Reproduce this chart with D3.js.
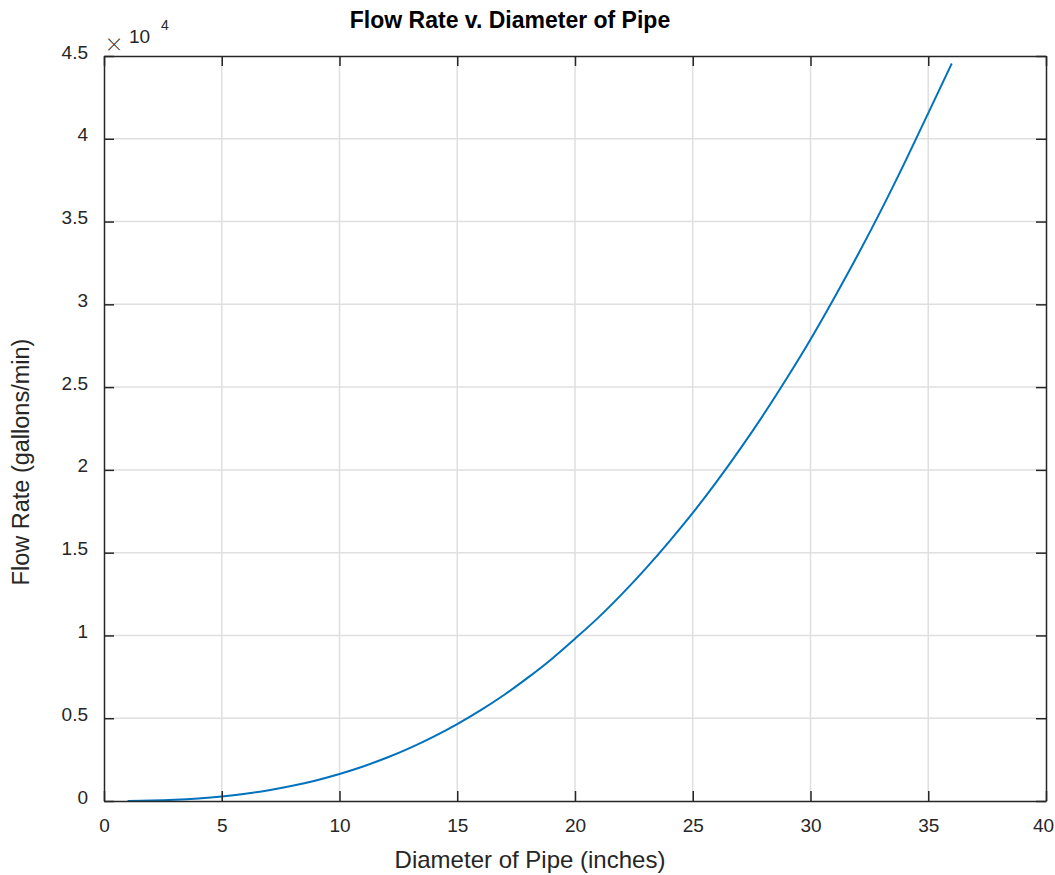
<!DOCTYPE html>
<html>
<head>
<meta charset="utf-8">
<script src="https://cdn.jsdelivr.net/npm/d3@7"></script>
<style>
  html, body { margin: 0; padding: 0; background: #fff; }
  svg { display: block; }
  text { font-family: "Liberation Sans", Arial, Helvetica, sans-serif; fill: #262626; }
</style>
</head>
<body>
<svg id="chart" width="1055" height="875"></svg>
<script>
// ---- data ----
const diameters = [1, 2, 3, 4, 5, 6, 7, 8, 9, 10, 11, 12, 13, 14, 15, 16, 17, 18,
                   19, 20, 21, 22, 23, 24, 25, 26, 27, 28, 29, 30, 31, 32, 33, 34, 35, 36];
const flowRates = [4, 25, 73, 153, 270, 435, 648, 915, 1240, 1630, 2085, 2610, 3210, 3890,
                   4650, 5490, 6420, 7450, 8565, 9800, 11090, 12510, 14040, 15670, 17400,
                   19260, 21240, 23330, 25550, 27880, 30370, 32960, 35690, 38560, 41550, 44550];
const xTicks = [0, 5, 10, 15, 20, 25, 30, 35, 40];
const yTicks = [0, 5000, 10000, 15000, 20000, 25000, 30000, 35000, 40000, 45000];
const yTickLabels = ["0", "0.5", "1", "1.5", "2", "2.5", "3", "3.5", "4", "4.5"];
const titleText = "Flow Rate v. Diameter of Pipe";
const xLabelText = "Diameter of Pipe (inches)";
const yLabelText = "Flow Rate (gallons/min)";

(function () {
// ---- layout ----
const L = 104, R = 1046, T = 56, B = 801;
const svg = d3.select("#chart");

const x = d3.scaleLinear().domain([0, 40]).range([L, R]);
const y = d3.scaleLinear().domain([0, 45000]).range([B, T]);

const axisColor = "#262626";
const gridColor = "#dfdfdf";
const tickLen = 10;

// grid
const grid = svg.append("g");
grid.selectAll("line.gx").data(xTicks.filter(d => d > 0 && d < 40)).join("line")
  .attr("class", "gx")
  .attr("x1", d => x(d)).attr("x2", d => x(d)).attr("y1", T).attr("y2", B)
  .attr("stroke", gridColor).attr("stroke-width", 1.5);
grid.selectAll("line.gy").data(yTicks.filter(d => d > 0 && d < 45000)).join("line")
  .attr("class", "gy")
  .attr("y1", d => y(d)).attr("y2", d => y(d)).attr("x1", L).attr("x2", R)
  .attr("stroke", gridColor).attr("stroke-width", 1.5);

// curve
const lineGen = d3.line()
  .x((d, i) => x(diameters[i]))
  .y(d => y(d))
  .curve(d3.curveMonotoneX);
svg.append("path")
  .attr("d", lineGen(flowRates))
  .attr("fill", "none")
  .attr("stroke", "#0072BD")
  .attr("stroke-width", 2);

// axes (box with inward ticks) using d3 axes
const fmtY = d => yTickLabels[yTicks.indexOf(d)];
const gBottom = svg.append("g").attr("transform", `translate(0,${B})`)
  .call(d3.axisBottom(x).tickValues(xTicks).tickSizeInner(-tickLen).tickSizeOuter(0).tickFormat(d3.format("d")));
const gTop = svg.append("g").attr("transform", `translate(0,${T})`)
  .call(d3.axisTop(x).tickValues(xTicks).tickSizeInner(-tickLen).tickSizeOuter(0).tickFormat(""));
const gLeft = svg.append("g").attr("transform", `translate(${L},0)`)
  .call(d3.axisLeft(y).tickValues(yTicks).tickSizeInner(-tickLen).tickSizeOuter(0).tickFormat(fmtY));
const gRight = svg.append("g").attr("transform", `translate(${R},0)`)
  .call(d3.axisRight(y).tickValues(yTicks).tickSizeInner(-tickLen).tickSizeOuter(0).tickFormat(""));

[gBottom, gTop, gLeft, gRight].forEach(g => {
  g.select(".domain").attr("stroke", axisColor).attr("stroke-width", 1.5);
  g.selectAll(".tick line").attr("stroke", axisColor).attr("stroke-width", 1.5);
  g.selectAll(".tick text").attr("fill", axisColor)
    .style("font-family", '"Liberation Sans", Arial, Helvetica, sans-serif')
    .style("font-size", "19px");
});
gBottom.selectAll(".tick text").attr("dy", "0").attr("y", 31)
  .attr("x", d => d === 40 ? -3 : 0);
gLeft.selectAll(".tick text").attr("dy", "0").attr("y", 2).attr("x", -16);

// exponent label  ×10^4
svg.append("text").attr("x", 105).attr("y", 55).attr("font-size", "31px")
  .attr("stroke", "#fff").attr("stroke-width", 1.1).text("×");
svg.append("text").attr("x", 129).attr("y", 43).attr("font-size", "19px").text("10");
svg.append("text").attr("x", 161).attr("y", 30).attr("font-size", "14px").text("4");

// title
svg.append("text").attr("x", 510).attr("y", 28).attr("text-anchor", "middle")
  .attr("font-size", "23px").attr("font-weight", "bold").style("fill", "#000")
  .text(titleText);

// x label
svg.append("text").attr("x", 530).attr("y", 868).attr("text-anchor", "middle")
  .attr("font-size", "24px").text(xLabelText);

// y label
svg.append("text").attr("transform", "translate(29,462) rotate(-90)").attr("text-anchor", "middle")
  .attr("font-size", "23.5px").text(yLabelText);
})();
</script>
</body>
</html>
